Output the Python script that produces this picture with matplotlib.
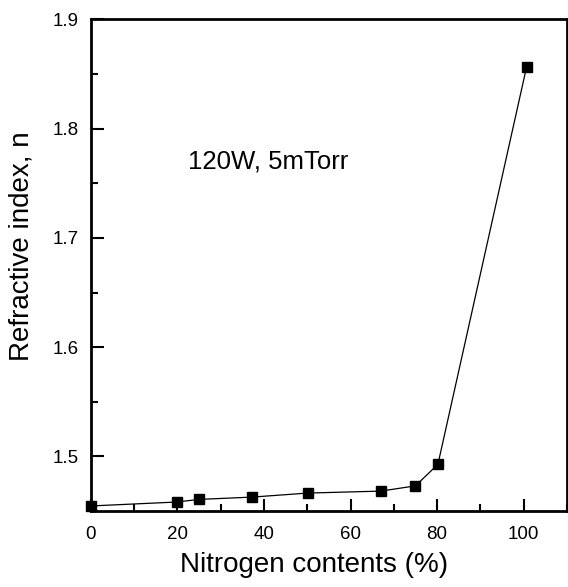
import matplotlib
matplotlib.use("Agg")
import matplotlib.pyplot as plt
from matplotlib.ticker import MultipleLocator

plt.rcParams['font.family'] = ['Liberation Sans', 'DejaVu Sans']

nitrogen = [0, 19.8, 25, 37.2, 50.1, 67.0, 75, 80.2, 100.7]
refr_index = [1.4546, 1.4582, 1.4606, 1.4627, 1.4664, 1.4682, 1.4730, 1.4927, 1.8567]

fig = plt.figure(figsize=(5.68, 5.87), dpi=100)
ax = fig.add_axes([0.160, 0.1295, 0.838, 0.8373])

ax.plot(nitrogen, refr_index, color='black', lw=0.9, marker='s', ms=7.5,
        mfc='black', mec='black', clip_on=False, zorder=3)

ax.set_xlim(0, 110)
ax.set_ylim(1.45, 1.9)
ax.xaxis.set_major_locator(MultipleLocator(20))
ax.xaxis.set_minor_locator(MultipleLocator(10))
ax.yaxis.set_major_locator(MultipleLocator(0.1))
ax.yaxis.set_minor_locator(MultipleLocator(0.05))
ax.yaxis.set_major_formatter(matplotlib.ticker.FormatStrFormatter('%.1f'))

ax.tick_params(which='both', direction='in', top=False, right=False, width=1.5)
ax.tick_params(which='major', length=9, labelsize=13.5)
ax.tick_params(axis='x', which='major', pad=11)
ax.tick_params(axis='y', which='major', pad=9)
ax.tick_params(which='minor', length=5)

for s in ax.spines.values():
    s.set_linewidth(2.0)

ax.set_xlabel('Nitrogen contents (%)', fontsize=20)
ax.set_ylabel('Refractive index, n', fontsize=20)
ax.xaxis.set_label_coords(0.469, -0.084)
ax.yaxis.set_label_coords(-0.118, 0.539)

ax.text(0.204, 0.712, '120W, 5mTorr', transform=ax.transAxes, fontsize=18.5,
        ha='left', va='center')

fig.savefig('out.png', dpi=100)
